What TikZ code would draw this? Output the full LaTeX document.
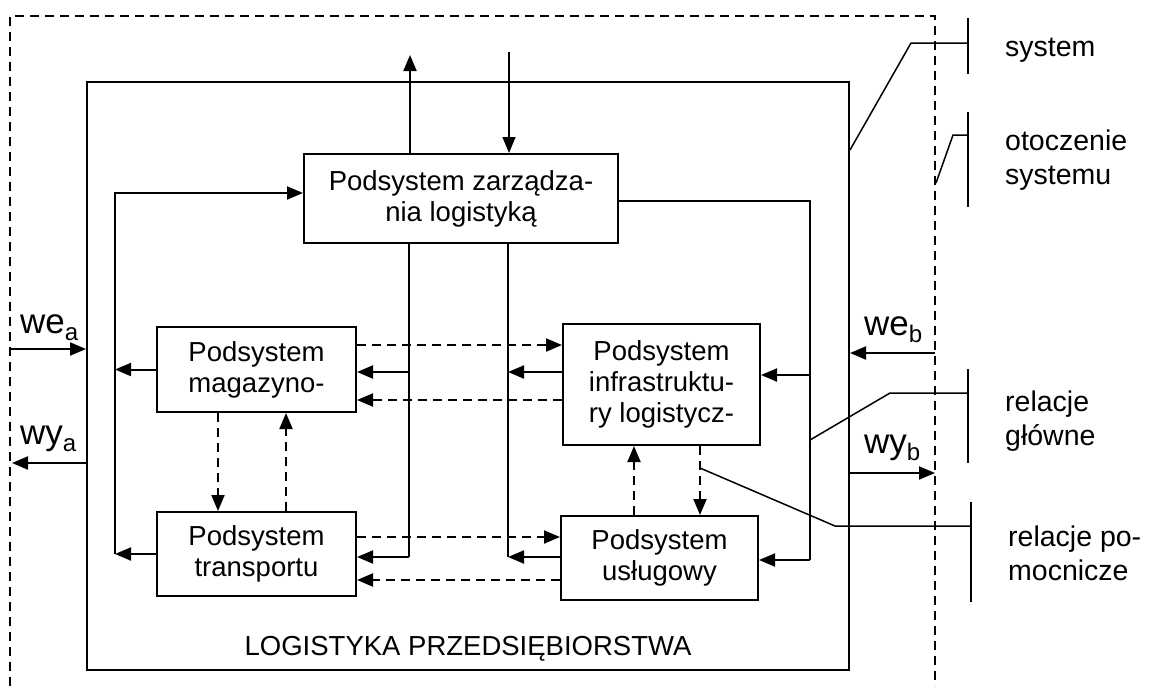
\documentclass[tikz,border=0pt]{standalone}
\usepackage{fontspec}
\setmainfont{Liberation Sans}
\usetikzlibrary{arrows.meta,calc}
\begin{document}
\begin{tikzpicture}[x=1pt,y=-1pt,
  every node/.style={font=\fontsize{27.5}{31}\selectfont, inner sep=0pt},
  box/.style={draw, line width=2pt, align=center},
  conn/.style={line width=2pt},
  arr/.style={conn, -{Triangle[length=16pt,width=13pt]}},
  darr/.style={arr, dash pattern=on 9pt off 6pt},
  envline/.style={line width=1.6pt, dash pattern=on 9pt off 6pt},
  leader/.style={line width=1.5pt},
  io/.style={font=\fontsize{35}{35}\selectfont, anchor=base west},
  legend/.style={anchor=west, align=left, font=\fontsize{28.5}{34}\selectfont}]

\useasboundingbox (0,0) rectangle (1150,686);
\fill[white] (0,0) rectangle (1150,686);

% environment boundary (open at the bottom)
\coordinate (envTL) at (10,16);
\coordinate (envTR) at (935,16);
\coordinate (envBL) at (10,686);
\coordinate (envBR) at (935,686);
\draw[envline] (envBL) -- (envTL) -- (envTR) -- (envBR);

% the enterprise system and its subsystems
\node[box, minimum width=762pt, minimum height=588pt] (sys) at (468,376) {};
\node (syslabel) at (468,649) {LOGISTYKA PRZEDSIĘBIORSTWA};

\node[box, minimum width=314pt, minimum height=89pt] (mgmt) at (461,198.5)
  {Podsystem zarządza-\\nia logistyką};
\node[box, minimum width=199pt, minimum height=85pt] (mag) at (256.5,369.5)
  {Podsystem\\magazyno-};
\node[box, minimum width=199pt, minimum height=84pt] (trans) at (256.5,554)
  {Podsystem\\transportu};
\node[box, minimum width=197pt, minimum height=121pt] (infra) at (661.5,384.5)
  {Podsystem\\infrastruktu-\\ry logistycz-};
\node[box, minimum width=197pt, minimum height=84pt] (usl) at (659.5,558)
  {Podsystem\\usługowy};

% bus columns and connector rows
\coordinate (busL)  at (115,0);
\coordinate (busM1) at (409,0);
\coordinate (busM2) at (508,0);
\coordinate (busR)  at (810,0);
\coordinate (rM) at (0,193);
\coordinate (rN) at (0,201);
\coordinate (rA) at (0,345);
\coordinate (rB) at (0,372);
\coordinate (rC) at (0,400);
\coordinate (rG) at (0,375);
\coordinate (rD) at (0,537);
\coordinate (rE) at (0,557);
\coordinate (rF) at (0,580);
\coordinate (rH) at (0,560);
\coordinate (cA) at (218,0);
\coordinate (cB) at (286,0);
\coordinate (cC) at (634,0);
\coordinate (cD) at (700,0);

% links across the system boundary at the top
\coordinate (topOut) at (410,55);
\coordinate (topIn)  at (509,52);
\draw[arr] (mgmt.north -| topOut) -- (topOut);
\draw[arr, line width=1.3pt] (topIn) -- (mgmt.north -| topIn);

% left bus: warehouse and transport report to management
\draw[arr] (mag.west) -- (mag.west -| busL);
\draw[arr] (trans.west) -- (trans.west -| busL);
\draw[arr] (trans.west -| busL) -- (busL |- rM) -- (mgmt.west |- rM);

% management directives to the left subsystems
\draw[conn] (mgmt.south -| busM1) -- (busM1 |- rE);
\draw[arr] (busM1 |- rB) -- (mag.east |- rB);
\draw[arr] (busM1 |- rE) -- (trans.east |- rE);

% right subsystems report to management
\draw[conn] (mgmt.south -| busM2) -- (busM2 |- rE);
\draw[arr] (infra.west |- rB) -- (busM2 |- rB);
\draw[arr] (usl.west |- rE) -- (busM2 |- rE);

% management directives to the right subsystems
\draw[conn] (mgmt.east |- rN) -- (busR |- rN) -- (busR |- rH);
\draw[arr] (busR |- rG) -- (infra.east |- rG);
\draw[arr] (busR |- rH) -- (usl.east |- rH);

% auxiliary relations
\draw[darr] (mag.east |- rA) -- (infra.west |- rA);
\draw[darr] (infra.west |- rC) -- (mag.east |- rC);
\draw[darr] (trans.east |- rD) -- (usl.west |- rD);
\draw[darr] (usl.west |- rF) -- (trans.east |- rF);
\draw[darr] (mag.south -| cA) -- (trans.north -| cA);
\draw[darr] (trans.north -| cB) -- (mag.south -| cB);
\draw[darr] (infra.south -| cD) -- (usl.north -| cD);
\draw[darr] (usl.north -| cC) -- (infra.south -| cC);

% inputs and outputs
\coordinate (rWa) at (0,349);
\coordinate (rYa) at (0,463);
\coordinate (rWb) at (0,353);
\coordinate (rYb) at (0,473);
\coordinate (envL) at (12,0);
\coordinate (envR) at (935,0);
\draw[arr] (envTL |- rWa) -- (sys.west |- rWa);
\draw[arr] (sys.west |- rYa) -- (envL |- rYa);
\draw[arr] (envR |- rWb) -- (sys.east |- rWb);
\draw[arr] (sys.east |- rYb) -- (envR |- rYb);
\node[io] (wea) at (20,333) {we\raisebox{-7pt}{\fontsize{24}{24}\selectfont a}};
\node[io] (wya) at (20,444) {wy\raisebox{-7pt}{\fontsize{24}{24}\selectfont a}};
\node[io] (web) at (864,335) {we\raisebox{-7pt}{\fontsize{24}{24}\selectfont b}};
\node[io] (wyb) at (864,453) {wy\raisebox{-7pt}{\fontsize{24}{24}\selectfont b}};

% legend with leaders
\coordinate (sysP) at (0,150);
\coordinate (kS1) at (911,43);
\coordinate (kS2) at (968,43);
\coordinate (bS1) at (968,18);
\coordinate (bS2) at (968,74);
\draw[leader] (sys.east |- sysP) -- (kS1) -- (kS2);
\draw[leader] (bS1) -- (bS2);
\node[legend] (lsys) at (1005,50) {system};

\coordinate (envP) at (936,183);
\coordinate (kE1) at (953,135);
\coordinate (kE2) at (968,135);
\coordinate (bE1) at (968,112);
\coordinate (bE2) at (968,207);
\draw[leader] (envP) -- (kE1) -- (kE2);
\draw[leader] (bE1) -- (bE2);
\node[legend] (lenv) at (1005,160) {otoczenie\\systemu};

\coordinate (mainP) at (0,440);
\coordinate (kG1) at (890,393);
\coordinate (kG2) at (968,393);
\coordinate (bG1) at (968,369);
\coordinate (bG2) at (968,463);
\draw[leader] (busR |- mainP) -- (kG1) -- (kG2);
\draw[leader] (bG1) -- (bG2);
\node[legend] (lmain) at (1005,421) {relacje\\główne};

\coordinate (auxP) at (0,468);
\coordinate (kP1) at (835,526);
\coordinate (kP2) at (971,526);
\coordinate (bP1) at (971,502);
\coordinate (bP2) at (971,602);
\draw[leader] (cD |- auxP) -- (kP1) -- (kP2);
\draw[leader] (bP1) -- (bP2);
\node[legend] (laux) at (1008,553) {relacje po-\\mocnicze};
\end{tikzpicture}
\end{document}
